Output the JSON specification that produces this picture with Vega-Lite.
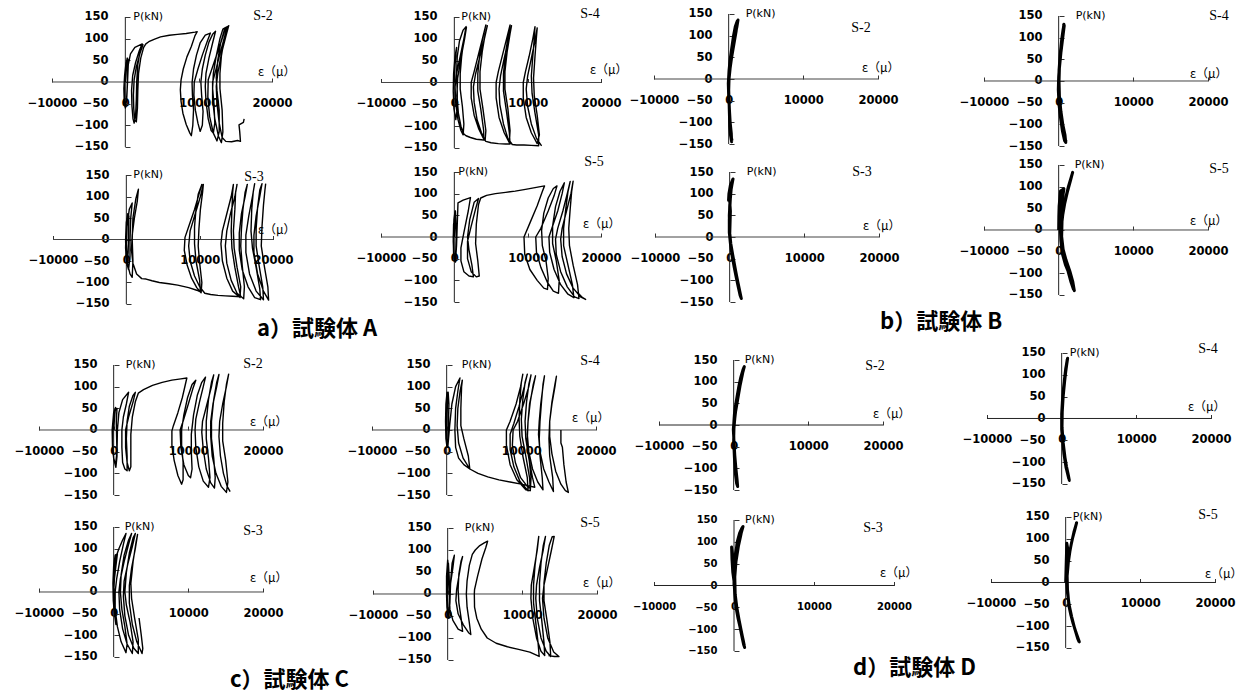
{
"$schema":"https://vega.github.io/schema/vega-lite/v6.json",
"padding":0,"background":"white","columns":4,"spacing":0,"bounds":"flush","align":"each",
"config":{"view":{"stroke":null},
"axis":{"domain":false,"grid":false,"labelFont":"DejaVu Sans","labelFontSize":11.5,"labelFontWeight":"bold","labelColor":"#000","tickColor":"#333","labelBound":false},
"axisX":{"tickSize":-4,"labelPadding":25,"labelBaseline":"middle"},
"axisY":{"tickSize":-5,"labelPadding":22}},
"concat":[
{"width":320,"height":160,"data":{"values":[{}]},"layer":[
{"mark":{"type":"rule","color":"#444"},"encoding":{"x":{"datum":-10000},"x2":{"datum":20000},"y":{"datum":0}}},
{"mark":{"type":"rule","color":"#222"},"encoding":{"x":{"datum":0},"y":{"datum":-150},"y2":{"datum":150}}},
{"data":{"name":"aS2"},"mark":{"type":"line","color":"#000","strokeWidth":1.4,"strokeJoin":"round"},"encoding":{"x":{"field":"e","type":"quantitative","scale":{"domain":[-17091,26545],"nice":false,"zero":false},"axis":{"offset":-78,"values":[-10000,0,10000,20000],"tickCount":20,"format":"d","title":null,"labelOverlap":false,"labelFlush":false}},"y":{"field":"f","type":"quantitative","scale":{"domain":[-180,189.2],"nice":false,"zero":false},"axis":{"offset":-125,"values":[-150,-100,-50,0,50,100,150],"tickCount":20,"title":null,"labelOverlap":false,"labelFlush":false}},"order":{"value":null}}},
{"mark":{"type":"text","text":"P(kN)","font":"DejaVu Sans","fontSize":11,"align":"left","baseline":"middle","dx":8},"encoding":{"x":{"datum":0},"y":{"datum":150}}},
{"mark":{"type":"text","text":"S-2","font":"Liberation Serif","fontSize":14,"align":"center","baseline":"middle","dx":-9,"dy":-1},"encoding":{"x":{"datum":20000},"y":{"datum":150}}},
{"mark":{"type":"text","text":"ε（μ）","font":"Noto Sans CJK JP","fontSize":12,"align":"left","baseline":"middle","dx":-14,"dy":-10},"encoding":{"x":{"datum":20000},"y":{"datum":0}}}]},
{"width":308,"height":160,"data":{"values":[{}]},"layer":[
{"mark":{"type":"rule","color":"#444"},"encoding":{"x":{"datum":-10000},"x2":{"datum":20000},"y":{"datum":0}}},
{"mark":{"type":"rule","color":"#222"},"encoding":{"x":{"datum":0},"y":{"datum":-150},"y2":{"datum":150}}},
{"data":{"name":"aS4"},"mark":{"type":"line","color":"#000","strokeWidth":1.4,"strokeJoin":"round"},"encoding":{"x":{"field":"e","type":"quantitative","scale":{"domain":[-18318,23682],"nice":false,"zero":false},"axis":{"offset":-77.5,"values":[-10000,0,10000,20000],"tickCount":20,"format":"d","title":null,"labelOverlap":false,"labelFlush":false}},"y":{"field":"f","type":"quantitative","scale":{"domain":[-177.5,188.9],"nice":false,"zero":false},"axis":{"offset":-134,"values":[-150,-100,-50,0,50,100,150],"tickCount":20,"title":null,"labelOverlap":false,"labelFlush":false}},"order":{"value":null}}},
{"mark":{"type":"text","text":"P(kN)","font":"DejaVu Sans","fontSize":11,"align":"left","baseline":"middle","dx":7},"encoding":{"x":{"datum":0},"y":{"datum":150}}},
{"mark":{"type":"text","text":"S-4","font":"Liberation Serif","fontSize":14,"align":"center","baseline":"middle","dx":-11,"dy":-3},"encoding":{"x":{"datum":20000},"y":{"datum":150}}},
{"mark":{"type":"text","text":"ε（μ）","font":"Noto Sans CJK JP","fontSize":12,"align":"left","baseline":"middle","dx":-11,"dy":-12},"encoding":{"x":{"datum":20000},"y":{"datum":0}}}]},
{"width":307,"height":160,"data":{"values":[{}]},"layer":[
{"mark":{"type":"rule","color":"#444"},"encoding":{"x":{"datum":-10000},"x2":{"datum":20000},"y":{"datum":0}}},
{"mark":{"type":"rule","color":"#222"},"encoding":{"x":{"datum":0},"y":{"datum":-150},"y2":{"datum":150}}},
{"data":{"name":"bS2"},"mark":{"type":"line","color":"#000","strokeWidth":3,"strokeJoin":"round"},"encoding":{"x":{"field":"e","type":"quantitative","scale":{"domain":[-13482,27634],"nice":false,"zero":false},"axis":{"offset":-81,"values":[-10000,0,10000,20000],"tickCount":20,"format":"d","title":null,"labelOverlap":false,"labelFlush":false}},"y":{"field":"f","type":"quantitative","scale":{"domain":[-186.9,182.3],"nice":false,"zero":false},"axis":{"offset":-101,"values":[-150,-100,-50,0,50,100,150],"tickCount":20,"title":null,"labelOverlap":false,"labelFlush":false}},"order":{"value":null}}},
{"mark":{"type":"text","text":"P(kN)","font":"DejaVu Sans","fontSize":11,"align":"left","baseline":"middle","dx":17},"encoding":{"x":{"datum":0},"y":{"datum":150}}},
{"mark":{"type":"text","text":"S-2","font":"Liberation Serif","fontSize":14,"align":"center","baseline":"middle","dx":-17,"dy":14},"encoding":{"x":{"datum":20000},"y":{"datum":150}}},
{"mark":{"type":"text","text":"ε（μ）","font":"Noto Sans CJK JP","fontSize":12,"align":"left","baseline":"middle","dx":-16,"dy":-11},"encoding":{"x":{"datum":20000},"y":{"datum":0}}}]},
{"width":314,"height":160,"data":{"values":[{}]},"layer":[
{"mark":{"type":"rule","color":"#444"},"encoding":{"x":{"datum":-10000},"x2":{"datum":20000},"y":{"datum":0}}},
{"mark":{"type":"rule","color":"#222"},"encoding":{"x":{"datum":0},"y":{"datum":-150},"y2":{"datum":150}}},
{"data":{"name":"bS4"},"mark":{"type":"line","color":"#000","strokeWidth":3,"strokeJoin":"round"},"encoding":{"x":{"field":"e","type":"quantitative","scale":{"domain":[-16563,25491],"nice":false,"zero":false},"axis":{"offset":-79,"values":[-10000,0,10000,20000],"tickCount":20,"format":"d","title":null,"labelOverlap":false,"labelFlush":false}},"y":{"field":"f","type":"quantitative","scale":{"domain":[-182.3,186.9],"nice":false,"zero":false},"axis":{"offset":-124,"values":[-150,-100,-50,0,50,100,150],"tickCount":20,"title":null,"labelOverlap":false,"labelFlush":false}},"order":{"value":null}}},
{"mark":{"type":"text","text":"P(kN)","font":"DejaVu Sans","fontSize":11,"align":"left","baseline":"middle","dx":17},"encoding":{"x":{"datum":0},"y":{"datum":150}}},
{"mark":{"type":"text","text":"S-4","font":"Liberation Serif","fontSize":14,"align":"center","baseline":"middle","dx":11,"dy":0},"encoding":{"x":{"datum":20000},"y":{"datum":150}}},
{"mark":{"type":"text","text":"ε（μ）","font":"Noto Sans CJK JP","fontSize":12,"align":"left","baseline":"middle","dx":-18,"dy":-7},"encoding":{"x":{"datum":20000},"y":{"datum":0}}}]},
{"width":320,"height":175,"data":{"values":[{}]},"title":{"text":"a）試験体 A","orient":"bottom","anchor":"start","frame":"group","dx":257,"offset":-6,"baseline":"middle","font":"Noto Sans CJK JP","fontSize":22,"fontWeight":"bold","color":"#000"},"layer":[
{"mark":{"type":"rule","color":"#444"},"encoding":{"x":{"datum":-10000},"x2":{"datum":20000},"y":{"datum":0}}},
{"mark":{"type":"rule","color":"#222"},"encoding":{"x":{"datum":0},"y":{"datum":-150},"y2":{"datum":150}}},
{"data":{"name":"aS3"},"mark":{"type":"line","color":"#000","strokeWidth":1.4,"strokeJoin":"round"},"encoding":{"x":{"field":"e","type":"quantitative","scale":{"domain":[-17227,26409],"nice":false,"zero":false},"axis":{"offset":-95.5,"values":[-10000,0,10000,20000],"tickCount":20,"format":"d","title":null,"labelOverlap":false,"labelFlush":false}},"y":{"field":"f","type":"quantitative","scale":{"domain":[-222.1,184.9],"nice":false,"zero":false},"axis":{"offset":-126,"values":[-150,-100,-50,0,50,100,150],"tickCount":20,"title":null,"labelOverlap":false,"labelFlush":false}},"order":{"value":null}}},
{"mark":{"type":"text","text":"P(kN)","font":"DejaVu Sans","fontSize":11,"align":"left","baseline":"middle","dx":7},"encoding":{"x":{"datum":0},"y":{"datum":150}}},
{"mark":{"type":"text","text":"S-3","font":"Liberation Serif","fontSize":14,"align":"center","baseline":"middle","dx":-19,"dy":2},"encoding":{"x":{"datum":20000},"y":{"datum":150}}},
{"mark":{"type":"text","text":"ε（μ）","font":"Noto Sans CJK JP","fontSize":12,"align":"left","baseline":"middle","dx":-15,"dy":-10},"encoding":{"x":{"datum":20000},"y":{"datum":0}}}]},
{"width":308,"height":175,"data":{"values":[{}]},"layer":[
{"mark":{"type":"rule","color":"#444"},"encoding":{"x":{"datum":-10000},"x2":{"datum":20000},"y":{"datum":0}}},
{"mark":{"type":"rule","color":"#222"},"encoding":{"x":{"datum":0},"y":{"datum":-150},"y2":{"datum":150}}},
{"data":{"name":"aS5"},"mark":{"type":"line","color":"#000","strokeWidth":1.4,"strokeJoin":"round"},"encoding":{"x":{"field":"e","type":"quantitative","scale":{"domain":[-18318,23682],"nice":false,"zero":false},"axis":{"offset":-98,"values":[-10000,0,10000,20000],"tickCount":20,"format":"d","title":null,"labelOverlap":false,"labelFlush":false}},"y":{"field":"f","type":"quantitative","scale":{"domain":[-226.1,177.7],"nice":false,"zero":false},"axis":{"offset":-134,"values":[-150,-100,-50,0,50,100,150],"tickCount":20,"title":null,"labelOverlap":false,"labelFlush":false}},"order":{"value":null}}},
{"mark":{"type":"text","text":"P(kN)","font":"DejaVu Sans","fontSize":11,"align":"left","baseline":"middle","dx":4},"encoding":{"x":{"datum":0},"y":{"datum":150}}},
{"mark":{"type":"text","text":"S-5","font":"Liberation Serif","fontSize":14,"align":"center","baseline":"middle","dx":-7,"dy":-10},"encoding":{"x":{"datum":20000},"y":{"datum":150}}},
{"mark":{"type":"text","text":"ε（μ）","font":"Noto Sans CJK JP","fontSize":12,"align":"left","baseline":"middle","dx":-18,"dy":-13},"encoding":{"x":{"datum":20000},"y":{"datum":0}}}]},
{"width":307,"height":175,"data":{"values":[{}]},"title":{"text":"b）試験体 B","orient":"bottom","anchor":"start","frame":"group","dx":252,"offset":-13,"baseline":"middle","font":"Noto Sans CJK JP","fontSize":22,"fontWeight":"bold","color":"#000"},"layer":[
{"mark":{"type":"rule","color":"#444"},"encoding":{"x":{"datum":-10000},"x2":{"datum":20000},"y":{"datum":0}}},
{"mark":{"type":"rule","color":"#222"},"encoding":{"x":{"datum":0},"y":{"datum":-150},"y2":{"datum":150}}},
{"data":{"name":"bS3"},"mark":{"type":"line","color":"#000","strokeWidth":3,"strokeJoin":"round"},"encoding":{"x":{"field":"e","type":"quantitative","scale":{"domain":[-13616,27500],"nice":false,"zero":false},"axis":{"offset":-98,"values":[-10000,0,10000,20000],"tickCount":20,"format":"d","title":null,"labelOverlap":false,"labelFlush":false}},"y":{"field":"f","type":"quantitative","scale":{"domain":[-226.1,177.7],"nice":false,"zero":false},"axis":{"offset":-102,"values":[-150,-100,-50,0,50,100,150],"tickCount":20,"title":null,"labelOverlap":false,"labelFlush":false}},"order":{"value":null}}},
{"mark":{"type":"text","text":"P(kN)","font":"DejaVu Sans","fontSize":11,"align":"left","baseline":"middle","dx":17},"encoding":{"x":{"datum":0},"y":{"datum":150}}},
{"mark":{"type":"text","text":"S-3","font":"Liberation Serif","fontSize":14,"align":"center","baseline":"middle","dx":-17,"dy":0},"encoding":{"x":{"datum":20000},"y":{"datum":150}}},
{"mark":{"type":"text","text":"ε（μ）","font":"Noto Sans CJK JP","fontSize":12,"align":"left","baseline":"middle","dx":-16,"dy":-11},"encoding":{"x":{"datum":20000},"y":{"datum":0}}}]},
{"width":314,"height":175,"data":{"values":[{}]},"layer":[
{"mark":{"type":"rule","color":"#444"},"encoding":{"x":{"datum":-10000},"x2":{"datum":20000},"y":{"datum":0}}},
{"mark":{"type":"rule","color":"#222"},"encoding":{"x":{"datum":0},"y":{"datum":-150},"y2":{"datum":150}}},
{"data":{"name":"bS5"},"mark":{"type":"line","color":"#000","strokeWidth":3,"strokeJoin":"round"},"encoding":{"x":{"field":"e","type":"quantitative","scale":{"domain":[-16563,25491],"nice":false,"zero":false},"axis":{"offset":-105,"values":[-10000,0,10000,20000],"tickCount":20,"format":"d","title":null,"labelOverlap":false,"labelFlush":false}},"y":{"field":"f","type":"quantitative","scale":{"domain":[-242.3,161.5],"nice":false,"zero":false},"axis":{"offset":-124,"values":[-150,-100,-50,0,50,100,150],"tickCount":20,"title":null,"labelOverlap":false,"labelFlush":false}},"order":{"value":null}}},
{"mark":{"type":"text","text":"P(kN)","font":"DejaVu Sans","fontSize":11,"align":"left","baseline":"middle","dx":16},"encoding":{"x":{"datum":0},"y":{"datum":150}}},
{"mark":{"type":"text","text":"S-5","font":"Liberation Serif","fontSize":14,"align":"center","baseline":"middle","dx":11,"dy":4},"encoding":{"x":{"datum":20000},"y":{"datum":150}}},
{"mark":{"type":"text","text":"ε（μ）","font":"Noto Sans CJK JP","fontSize":12,"align":"left","baseline":"middle","dx":-18,"dy":-9},"encoding":{"x":{"datum":20000},"y":{"datum":0}}}]},
{"width":320,"height":175,"data":{"values":[{}]},"layer":[
{"mark":{"type":"rule","color":"#444"},"encoding":{"x":{"datum":-10000},"x2":{"datum":20000},"y":{"datum":0}}},
{"mark":{"type":"rule","color":"#222"},"encoding":{"x":{"datum":0},"y":{"datum":-150},"y2":{"datum":150}}},
{"data":{"name":"cS2"},"mark":{"type":"line","color":"#000","strokeWidth":1.4,"strokeJoin":"round"},"encoding":{"x":{"field":"e","type":"quantitative","scale":{"domain":[-15223,27634],"nice":false,"zero":false},"axis":{"offset":-80,"values":[-10000,0,10000,20000],"tickCount":20,"format":"d","title":null,"labelOverlap":false,"labelFlush":false}},"y":{"field":"f","type":"quantitative","scale":{"domain":[-184.6,219.2],"nice":false,"zero":false},"axis":{"offset":-114,"values":[-150,-100,-50,0,50,100,150],"tickCount":20,"title":null,"labelOverlap":false,"labelFlush":false}},"order":{"value":null}}},
{"mark":{"type":"text","text":"P(kN)","font":"DejaVu Sans","fontSize":11,"align":"left","baseline":"middle","dx":12},"encoding":{"x":{"datum":0},"y":{"datum":150}}},
{"mark":{"type":"text","text":"S-2","font":"Liberation Serif","fontSize":14,"align":"center","baseline":"middle","dx":-10,"dy":-1},"encoding":{"x":{"datum":20000},"y":{"datum":150}}},
{"mark":{"type":"text","text":"ε（μ）","font":"Noto Sans CJK JP","fontSize":12,"align":"left","baseline":"middle","dx":-13,"dy":-8},"encoding":{"x":{"datum":20000},"y":{"datum":0}}}]},
{"width":308,"height":175,"data":{"values":[{}]},"layer":[
{"mark":{"type":"rule","color":"#444"},"encoding":{"x":{"datum":-10000},"x2":{"datum":20000},"y":{"datum":0}}},
{"mark":{"type":"rule","color":"#222"},"encoding":{"x":{"datum":0},"y":{"datum":-150},"y2":{"datum":150}}},
{"data":{"name":"cS4"},"mark":{"type":"line","color":"#000","strokeWidth":1.4,"strokeJoin":"round"},"encoding":{"x":{"field":"e","type":"quantitative","scale":{"domain":[-16964,24286],"nice":false,"zero":false},"axis":{"offset":-80,"values":[-10000,0,10000,20000],"tickCount":20,"format":"d","title":null,"labelOverlap":false,"labelFlush":false}},"y":{"field":"f","type":"quantitative","scale":{"domain":[-184.6,219.2],"nice":false,"zero":false},"axis":{"offset":-127,"values":[-150,-100,-50,0,50,100,150],"tickCount":20,"title":null,"labelOverlap":false,"labelFlush":false}},"order":{"value":null}}},
{"mark":{"type":"text","text":"P(kN)","font":"DejaVu Sans","fontSize":11,"align":"left","baseline":"middle","dx":15},"encoding":{"x":{"datum":0},"y":{"datum":150}}},
{"mark":{"type":"text","text":"S-4","font":"Liberation Serif","fontSize":14,"align":"center","baseline":"middle","dx":-6,"dy":-4},"encoding":{"x":{"datum":20000},"y":{"datum":150}}},
{"mark":{"type":"text","text":"ε（μ）","font":"Noto Sans CJK JP","fontSize":12,"align":"left","baseline":"middle","dx":-24,"dy":-12},"encoding":{"x":{"datum":20000},"y":{"datum":0}}}]},
{"width":307,"height":175,"data":{"values":[{}]},"layer":[
{"mark":{"type":"rule","color":"#222"},"encoding":{"x":{"datum":-10000},"x2":{"datum":20000},"y":{"datum":0}}},
{"mark":{"type":"rule","color":"#222"},"encoding":{"x":{"datum":0},"y":{"datum":-150},"y2":{"datum":150}}},
{"data":{"name":"dS2"},"mark":{"type":"line","color":"#000","strokeWidth":3,"strokeJoin":"round"},"encoding":{"x":{"field":"e","type":"quantitative","scale":{"domain":[-14152,26964],"nice":false,"zero":false},"axis":{"offset":-85,"values":[-10000,0,10000,20000],"tickCount":20,"format":"d","title":null,"labelOverlap":false,"labelFlush":false}},"y":{"field":"f","type":"quantitative","scale":{"domain":[-196.1,207.7],"nice":false,"zero":false},"axis":{"offset":-106,"values":[-150,-100,-50,0,50,100,150],"tickCount":20,"title":null,"labelOverlap":false,"labelFlush":false}},"order":{"value":null}}},
{"mark":{"type":"text","text":"P(kN)","font":"DejaVu Sans","fontSize":11,"align":"left","baseline":"middle","dx":11},"encoding":{"x":{"datum":0},"y":{"datum":150}}},
{"mark":{"type":"text","text":"S-2","font":"Liberation Serif","fontSize":14,"align":"center","baseline":"middle","dx":-8,"dy":6},"encoding":{"x":{"datum":20000},"y":{"datum":150}}},
{"mark":{"type":"text","text":"ε（μ）","font":"Noto Sans CJK JP","fontSize":12,"align":"left","baseline":"middle","dx":-10,"dy":-11},"encoding":{"x":{"datum":20000},"y":{"datum":0}}}]},
{"width":314,"height":175,"data":{"values":[{}]},"layer":[
{"mark":{"type":"rule","color":"#222"},"encoding":{"x":{"datum":-10000},"x2":{"datum":20000},"y":{"datum":0}}},
{"mark":{"type":"rule","color":"#222"},"encoding":{"x":{"datum":0},"y":{"datum":-150},"y2":{"datum":150}}},
{"data":{"name":"dS4"},"mark":{"type":"line","color":"#000","strokeWidth":3,"strokeJoin":"round"},"encoding":{"x":{"field":"e","type":"quantitative","scale":{"domain":[-16964,25090],"nice":false,"zero":false},"axis":{"offset":-91.5,"values":[-10000,0,10000,20000],"tickCount":20,"format":"d","title":null,"labelOverlap":false,"labelFlush":false}},"y":{"field":"f","type":"quantitative","scale":{"domain":[-209.6,191.2],"nice":false,"zero":false},"axis":{"offset":-127,"values":[-150,-100,-50,0,50,100,150],"tickCount":20,"title":null,"labelOverlap":false,"labelFlush":false}},"order":{"value":null}}},
{"mark":{"type":"text","text":"P(kN)","font":"DejaVu Sans","fontSize":11,"align":"left","baseline":"middle","dx":8},"encoding":{"x":{"datum":0},"y":{"datum":150}}},
{"mark":{"type":"text","text":"S-4","font":"Liberation Serif","fontSize":14,"align":"center","baseline":"middle","dx":-3,"dy":-4},"encoding":{"x":{"datum":20000},"y":{"datum":150}}},
{"mark":{"type":"text","text":"ε（μ）","font":"Noto Sans CJK JP","fontSize":12,"align":"left","baseline":"middle","dx":-23,"dy":-11},"encoding":{"x":{"datum":20000},"y":{"datum":0}}}]},
{"width":320,"height":185,"data":{"values":[{}]},"title":{"text":"c）試験体 C","orient":"bottom","anchor":"start","frame":"group","dx":230,"offset":-15,"baseline":"middle","font":"Noto Sans CJK JP","fontSize":22,"fontWeight":"bold","color":"#000"},"layer":[
{"mark":{"type":"rule","color":"#444"},"encoding":{"x":{"datum":-10000},"x2":{"datum":20000},"y":{"datum":0}}},
{"mark":{"type":"rule","color":"#222"},"encoding":{"x":{"datum":0},"y":{"datum":-150},"y2":{"datum":150}}},
{"data":{"name":"cS3"},"mark":{"type":"line","color":"#000","strokeWidth":1.4,"strokeJoin":"round"},"encoding":{"x":{"field":"e","type":"quantitative","scale":{"domain":[-15223,27634],"nice":false,"zero":false},"axis":{"offset":-103,"values":[-10000,0,10000,20000],"tickCount":20,"format":"d","title":null,"labelOverlap":false,"labelFlush":false}},"y":{"field":"f","type":"quantitative","scale":{"domain":[-237.7,189.2],"nice":false,"zero":false},"axis":{"offset":-114,"values":[-150,-100,-50,0,50,100,150],"tickCount":20,"title":null,"labelOverlap":false,"labelFlush":false}},"order":{"value":null}}},
{"mark":{"type":"text","text":"P(kN)","font":"DejaVu Sans","fontSize":11,"align":"left","baseline":"middle","dx":11},"encoding":{"x":{"datum":0},"y":{"datum":150}}},
{"mark":{"type":"text","text":"S-3","font":"Liberation Serif","fontSize":14,"align":"center","baseline":"middle","dx":-10,"dy":4},"encoding":{"x":{"datum":20000},"y":{"datum":150}}},
{"mark":{"type":"text","text":"ε（μ）","font":"Noto Sans CJK JP","fontSize":12,"align":"left","baseline":"middle","dx":-13,"dy":-14},"encoding":{"x":{"datum":20000},"y":{"datum":0}}}]},
{"width":308,"height":185,"data":{"values":[{}]},"layer":[
{"mark":{"type":"rule","color":"#444"},"encoding":{"x":{"datum":-10000},"x2":{"datum":20000},"y":{"datum":0}}},
{"mark":{"type":"rule","color":"#222"},"encoding":{"x":{"datum":0},"y":{"datum":-150},"y2":{"datum":150}}},
{"data":{"name":"cS5"},"mark":{"type":"line","color":"#000","strokeWidth":1.4,"strokeJoin":"round"},"encoding":{"x":{"field":"e","type":"quantitative","scale":{"domain":[-17098,24152],"nice":false,"zero":false},"axis":{"offset":-101,"values":[-10000,0,10000,20000],"tickCount":20,"format":"d","title":null,"labelOverlap":false,"labelFlush":false}},"y":{"field":"f","type":"quantitative","scale":{"domain":[-229.6,190.9],"nice":false,"zero":false},"axis":{"offset":-128,"values":[-150,-100,-50,0,50,100,150],"tickCount":20,"title":null,"labelOverlap":false,"labelFlush":false}},"order":{"value":null}}},
{"mark":{"type":"text","text":"P(kN)","font":"DejaVu Sans","fontSize":11,"align":"left","baseline":"middle","dx":17},"encoding":{"x":{"datum":0},"y":{"datum":150}}},
{"mark":{"type":"text","text":"S-5","font":"Liberation Serif","fontSize":14,"align":"center","baseline":"middle","dx":-7,"dy":-5},"encoding":{"x":{"datum":20000},"y":{"datum":150}}},
{"mark":{"type":"text","text":"ε（μ）","font":"Noto Sans CJK JP","fontSize":12,"align":"left","baseline":"middle","dx":-14,"dy":-11},"encoding":{"x":{"datum":20000},"y":{"datum":0}}}]},
{"width":307,"height":185,"data":{"values":[{}]},"title":{"text":"d）試験体 D","orient":"bottom","anchor":"start","frame":"group","dx":225,"offset":-27,"baseline":"middle","font":"Noto Sans CJK JP","fontSize":22,"fontWeight":"bold","color":"#000"},"layer":[
{"mark":{"type":"rule","color":"#222"},"encoding":{"x":{"datum":-10000},"x2":{"datum":20000},"y":{"datum":0}}},
{"mark":{"type":"rule","color":"#222"},"encoding":{"x":{"datum":0},"y":{"datum":-150},"y2":{"datum":150}}},
{"data":{"name":"dS3"},"mark":{"type":"line","color":"#000","strokeWidth":3,"strokeJoin":"round"},"encoding":{"x":{"field":"e","type":"quantitative","scale":{"domain":[-13250,25125],"nice":false,"zero":false},"axis":{"offset":-109.5,"values":[-10000,0,10000,20000],"tickCount":20,"format":"d","title":null,"labelFontSize":10,"labelOverlap":false,"labelFlush":false}},"y":{"field":"f","type":"quantitative","scale":{"domain":[-250.8,172.9],"nice":false,"zero":false},"axis":{"offset":-106,"values":[-150,-100,-50,0,50,100,150],"tickCount":20,"title":null,"labelFontSize":10,"labelOverlap":false,"labelFlush":false}},"order":{"value":null}}},
{"mark":{"type":"text","text":"P(kN)","font":"DejaVu Sans","fontSize":11,"align":"left","baseline":"middle","dx":11},"encoding":{"x":{"datum":0},"y":{"datum":150}}},
{"mark":{"type":"text","text":"S-3","font":"Liberation Serif","fontSize":14,"align":"center","baseline":"middle","dx":-21,"dy":8},"encoding":{"x":{"datum":20000},"y":{"datum":150}}},
{"mark":{"type":"text","text":"ε（μ）","font":"Noto Sans CJK JP","fontSize":12,"align":"left","baseline":"middle","dx":-14,"dy":-12},"encoding":{"x":{"datum":20000},"y":{"datum":0}}}]},
{"width":314,"height":185,"data":{"values":[{}]},"layer":[
{"mark":{"type":"rule","color":"#222"},"encoding":{"x":{"datum":-10000},"x2":{"datum":20000},"y":{"datum":0}}},
{"mark":{"type":"rule","color":"#222"},"encoding":{"x":{"datum":0},"y":{"datum":-150},"y2":{"datum":150}}},
{"data":{"name":"dS5"},"mark":{"type":"line","color":"#000","strokeWidth":3,"strokeJoin":"round"},"encoding":{"x":{"field":"e","type":"quantitative","scale":{"domain":[-17500,24554],"nice":false,"zero":false},"axis":{"offset":-112.5,"values":[-10000,0,10000,20000],"tickCount":20,"format":"d","title":null,"labelOverlap":false,"labelFlush":false}},"y":{"field":"f","type":"quantitative","scale":{"domain":[-257.7,166],"nice":false,"zero":false},"axis":{"offset":-131,"values":[-150,-100,-50,0,50,100,150],"tickCount":20,"title":null,"labelOverlap":false,"labelFlush":false}},"order":{"value":null}}},
{"mark":{"type":"text","text":"P(kN)","font":"DejaVu Sans","fontSize":11,"align":"left","baseline":"middle","dx":7},"encoding":{"x":{"datum":0},"y":{"datum":150}}},
{"mark":{"type":"text","text":"S-5","font":"Liberation Serif","fontSize":14,"align":"center","baseline":"middle","dx":-7,"dy":-2},"encoding":{"x":{"datum":20000},"y":{"datum":150}}},
{"mark":{"type":"text","text":"ε（μ）","font":"Noto Sans CJK JP","fontSize":12,"align":"left","baseline":"middle","dx":-10,"dy":-8},"encoding":{"x":{"datum":20000},"y":{"datum":0}}}]}
],
"datasets":{
"aS2":[{"e":0,"f":0},{"e":150,"f":30},{"e":300,"f":55},{"e":100,"f":45},{"e":-100,"f":15},{"e":-200,"f":-15},{"e":-150,"f":-45},{"e":0,"f":-60},{"e":150,"f":-45},{"e":250,"f":-15},{"e":300,"f":15},{"e":380,"f":50},{"e":250,"f":55},{"e":0,"f":30},{"e":-150,"f":0},{"e":-100,"f":-40},{"e":50,"f":-58},{"e":200,"f":-35},{"e":300,"f":0},{"e":400,"f":40},{"e":700,"f":65},{"e":1300,"f":80},{"e":2300,"f":88},{"e":1900,"f":72},{"e":1400,"f":45},{"e":1000,"f":15},{"e":850,"f":-20},{"e":900,"f":-55},{"e":1050,"f":-85},{"e":1200,"f":-95},{"e":1400,"f":-78},{"e":1500,"f":-40},{"e":1550,"f":0},{"e":1700,"f":40},{"e":2000,"f":70},{"e":2400,"f":86},{"e":2000,"f":66},{"e":1500,"f":35},{"e":1200,"f":5},{"e":1100,"f":-30},{"e":1150,"f":-62},{"e":1300,"f":-88},{"e":1500,"f":-92},{"e":1650,"f":-60},{"e":1700,"f":-20},{"e":1800,"f":20},{"e":2100,"f":55},{"e":2500,"f":80},{"e":2800,"f":88},{"e":3200,"f":93},{"e":4000,"f":99},{"e":4800,"f":104},{"e":6000,"f":108},{"e":7100,"f":110},{"e":8300,"f":112},{"e":9500,"f":115},{"e":9800,"f":116},{"e":9500,"f":107},{"e":9000,"f":82},{"e":8400,"f":58},{"e":7900,"f":30},{"e":7600,"f":5},{"e":7500,"f":-18},{"e":7600,"f":-45},{"e":7850,"f":-72},{"e":8300,"f":-98},{"e":8800,"f":-118},{"e":9000,"f":-124},{"e":9200,"f":-100},{"e":9300,"f":-64},{"e":9150,"f":-30},{"e":9100,"f":-2},{"e":9300,"f":30},{"e":9700,"f":62},{"e":10200,"f":90},{"e":10900,"f":108},{"e":11600,"f":113},{"e":11200,"f":95},{"e":10500,"f":62},{"e":9900,"f":30},{"e":9400,"f":0},{"e":9350,"f":-30},{"e":9550,"f":-65},{"e":9900,"f":-95},{"e":10200,"f":-114},{"e":10500,"f":-100},{"e":10600,"f":-68},{"e":10400,"f":-30},{"e":10300,"f":0},{"e":10500,"f":30},{"e":10900,"f":62},{"e":11400,"f":92},{"e":11900,"f":110},{"e":12300,"f":117},{"e":11900,"f":90},{"e":11400,"f":55},{"e":11000,"f":20},{"e":10900,"f":-10},{"e":11000,"f":-45},{"e":11300,"f":-85},{"e":11700,"f":-112},{"e":12000,"f":-118},{"e":12200,"f":-95},{"e":12100,"f":-55},{"e":11900,"f":-15},{"e":12000,"f":20},{"e":12400,"f":60},{"e":12900,"f":100},{"e":13300,"f":122},{"e":13700,"f":126},{"e":13300,"f":105},{"e":12600,"f":70},{"e":11900,"f":35},{"e":11300,"f":5},{"e":11250,"f":-35},{"e":11500,"f":-80},{"e":12000,"f":-118},{"e":12500,"f":-136},{"e":12800,"f":-115},{"e":12800,"f":-65},{"e":12500,"f":-20},{"e":12400,"f":10},{"e":12600,"f":50},{"e":13000,"f":90},{"e":13500,"f":120},{"e":13900,"f":128},{"e":13500,"f":102},{"e":12900,"f":65},{"e":12300,"f":25},{"e":11900,"f":0},{"e":11900,"f":-40},{"e":12200,"f":-85},{"e":12700,"f":-125},{"e":13100,"f":-140},{"e":13300,"f":-115},{"e":13200,"f":-65},{"e":12900,"f":-15},{"e":12900,"f":20},{"e":13100,"f":60},{"e":13500,"f":100},{"e":13900,"f":125},{"e":14100,"f":130},{"e":13700,"f":105},{"e":13100,"f":65},{"e":12600,"f":20},{"e":12400,"f":-10},{"e":12500,"f":-50},{"e":12800,"f":-95},{"e":13200,"f":-128},{"e":13700,"f":-137},{"e":14500,"f":-138},{"e":15300,"f":-135},{"e":15700,"f":-137},{"e":15600,"f":-115},{"e":15500,"f":-99},{"e":16100,"f":-93},{"e":16200,"f":-85}],
"aS4":[{"e":0,"f":0},{"e":100,"f":40},{"e":300,"f":80},{"e":100,"f":60},{"e":-100,"f":20},{"e":-150,"f":-20},{"e":-50,"f":-60},{"e":200,"f":-85},{"e":400,"f":-60},{"e":400,"f":-20},{"e":300,"f":20},{"e":400,"f":60},{"e":700,"f":95},{"e":1200,"f":120},{"e":1600,"f":128},{"e":1300,"f":100},{"e":800,"f":60},{"e":300,"f":20},{"e":100,"f":-10},{"e":200,"f":-50},{"e":500,"f":-85},{"e":900,"f":-110},{"e":1200,"f":-120},{"e":1300,"f":-95},{"e":1100,"f":-55},{"e":800,"f":-15},{"e":800,"f":20},{"e":1000,"f":60},{"e":1300,"f":100},{"e":1650,"f":126},{"e":1400,"f":100},{"e":900,"f":55},{"e":450,"f":10},{"e":350,"f":-30},{"e":550,"f":-70},{"e":900,"f":-100},{"e":1300,"f":-118},{"e":1600,"f":-122},{"e":2200,"f":-126},{"e":3000,"f":-130},{"e":3700,"f":-131},{"e":4000,"f":-132},{"e":4000,"f":-110},{"e":3600,"f":-60},{"e":3200,"f":-20},{"e":3200,"f":20},{"e":3500,"f":70},{"e":4000,"f":110},{"e":4300,"f":132},{"e":3900,"f":105},{"e":3300,"f":65},{"e":2700,"f":25},{"e":2300,"f":0},{"e":2300,"f":-35},{"e":2700,"f":-75},{"e":3300,"f":-105},{"e":3900,"f":-126},{"e":4200,"f":-133},{"e":4300,"f":-110},{"e":3900,"f":-60},{"e":3500,"f":-15},{"e":3500,"f":25},{"e":3800,"f":70},{"e":4200,"f":110},{"e":4500,"f":130},{"e":4100,"f":100},{"e":3500,"f":60},{"e":2900,"f":20},{"e":2600,"f":-10},{"e":2700,"f":-45},{"e":3100,"f":-85},{"e":3700,"f":-115},{"e":4300,"f":-135},{"e":5000,"f":-138},{"e":6000,"f":-140},{"e":7000,"f":-141},{"e":7600,"f":-141},{"e":7500,"f":-115},{"e":7100,"f":-65},{"e":6700,"f":-20},{"e":6700,"f":20},{"e":7000,"f":70},{"e":7400,"f":110},{"e":7600,"f":132},{"e":7200,"f":105},{"e":6600,"f":65},{"e":6000,"f":25},{"e":5700,"f":0},{"e":5700,"f":-35},{"e":6100,"f":-80},{"e":6800,"f":-115},{"e":7500,"f":-138},{"e":7600,"f":-110},{"e":7300,"f":-60},{"e":6900,"f":-15},{"e":6900,"f":25},{"e":7200,"f":70},{"e":7600,"f":112},{"e":7800,"f":130},{"e":7400,"f":100},{"e":6800,"f":55},{"e":6300,"f":15},{"e":6100,"f":-15},{"e":6200,"f":-50},{"e":6700,"f":-95},{"e":7300,"f":-128},{"e":7900,"f":-142},{"e":8500,"f":-143},{"e":9500,"f":-143},{"e":10500,"f":-144},{"e":11500,"f":-145},{"e":11500,"f":-120},{"e":11000,"f":-70},{"e":10600,"f":-25},{"e":10500,"f":15},{"e":10700,"f":60},{"e":10900,"f":100},{"e":11000,"f":128},{"e":10700,"f":100},{"e":10200,"f":60},{"e":9700,"f":25},{"e":9400,"f":0},{"e":9400,"f":-35},{"e":9800,"f":-80},{"e":10500,"f":-115},{"e":11300,"f":-140},{"e":11600,"f":-120},{"e":11300,"f":-75},{"e":10900,"f":-30},{"e":10800,"f":10},{"e":11000,"f":60},{"e":11200,"f":105},{"e":11300,"f":125},{"e":11000,"f":95},{"e":10500,"f":55},{"e":10000,"f":15},{"e":9800,"f":-15},{"e":10000,"f":-55},{"e":10500,"f":-95},{"e":11200,"f":-128},{"e":11900,"f":-145}],
"aS3":[{"e":0,"f":0},{"e":100,"f":30},{"e":200,"f":60},{"e":0,"f":40},{"e":-100,"f":0},{"e":-50,"f":-40},{"e":100,"f":-60},{"e":250,"f":-30},{"e":300,"f":10},{"e":350,"f":55},{"e":200,"f":60},{"e":-50,"f":20},{"e":-100,"f":-20},{"e":50,"f":-55},{"e":300,"f":-70},{"e":500,"f":-40},{"e":500,"f":0},{"e":600,"f":50},{"e":800,"f":85},{"e":400,"f":70},{"e":100,"f":30},{"e":0,"f":-10},{"e":150,"f":-55},{"e":500,"f":-80},{"e":800,"f":-88},{"e":900,"f":-50},{"e":800,"f":0},{"e":900,"f":50},{"e":1300,"f":95},{"e":1650,"f":117},{"e":1500,"f":90},{"e":1100,"f":50},{"e":800,"f":10},{"e":700,"f":-25},{"e":900,"f":-55},{"e":1400,"f":-80},{"e":2100,"f":-91},{"e":2700,"f":-92},{"e":3500,"f":-96},{"e":4500,"f":-100},{"e":5800,"f":-103},{"e":7000,"f":-106},{"e":8500,"f":-112},{"e":9600,"f":-118},{"e":10100,"f":-122},{"e":10000,"f":-95},{"e":9500,"f":-50},{"e":9300,"f":-10},{"e":9300,"f":30},{"e":9500,"f":70},{"e":9800,"f":105},{"e":10300,"f":128},{"e":9900,"f":105},{"e":9300,"f":70},{"e":8600,"f":35},{"e":8000,"f":5},{"e":7900,"f":-25},{"e":8300,"f":-60},{"e":8900,"f":-90},{"e":9600,"f":-112},{"e":10200,"f":-124},{"e":10300,"f":-100},{"e":10000,"f":-55},{"e":9800,"f":-15},{"e":9900,"f":25},{"e":10100,"f":70},{"e":10400,"f":110},{"e":10500,"f":128},{"e":10100,"f":100},{"e":9400,"f":60},{"e":8700,"f":20},{"e":8500,"f":-15},{"e":8700,"f":-50},{"e":9300,"f":-85},{"e":10000,"f":-110},{"e":10700,"f":-125},{"e":11500,"f":-128},{"e":12500,"f":-130},{"e":13500,"f":-131},{"e":14500,"f":-132},{"e":15600,"f":-133},{"e":15300,"f":-110},{"e":14800,"f":-65},{"e":14400,"f":-20},{"e":14300,"f":20},{"e":14400,"f":70},{"e":14500,"f":110},{"e":14600,"f":128},{"e":14300,"f":100},{"e":13700,"f":60},{"e":13100,"f":20},{"e":12900,"f":-10},{"e":13100,"f":-50},{"e":13700,"f":-90},{"e":14500,"f":-120},{"e":15500,"f":-135},{"e":15600,"f":-110},{"e":15100,"f":-65},{"e":14700,"f":-20},{"e":14600,"f":20},{"e":14800,"f":70},{"e":14900,"f":110},{"e":15100,"f":128},{"e":14800,"f":100},{"e":14200,"f":60},{"e":13700,"f":20},{"e":13500,"f":-15},{"e":13700,"f":-55},{"e":14300,"f":-95},{"e":15100,"f":-125},{"e":16000,"f":-138},{"e":16100,"f":-110},{"e":15800,"f":-60},{"e":15600,"f":-15},{"e":15700,"f":25},{"e":15900,"f":70},{"e":16200,"f":110},{"e":16500,"f":128},{"e":16200,"f":100},{"e":15700,"f":60},{"e":15400,"f":15},{"e":15400,"f":-25},{"e":15800,"f":-70},{"e":16600,"f":-110},{"e":17500,"f":-135},{"e":18300,"f":-140},{"e":18200,"f":-115},{"e":17700,"f":-65},{"e":17200,"f":-20},{"e":17000,"f":20},{"e":17100,"f":70},{"e":17300,"f":110},{"e":17500,"f":130},{"e":17200,"f":100},{"e":16700,"f":55},{"e":16300,"f":10},{"e":16300,"f":-30},{"e":16800,"f":-80},{"e":17700,"f":-120},{"e":18700,"f":-140},{"e":18600,"f":-110},{"e":18100,"f":-60},{"e":17700,"f":-15},{"e":17700,"f":25},{"e":17900,"f":75},{"e":18200,"f":115},{"e":18500,"f":130},{"e":18200,"f":100},{"e":17700,"f":55},{"e":17400,"f":10},{"e":17400,"f":-30},{"e":17900,"f":-80},{"e":18700,"f":-120},{"e":19400,"f":-141},{"e":19300,"f":-110},{"e":18800,"f":-60},{"e":18400,"f":-15},{"e":18500,"f":30},{"e":18700,"f":80},{"e":18900,"f":115},{"e":19000,"f":130}],
"aS5":[{"e":0,"f":0},{"e":50,"f":30},{"e":100,"f":60},{"e":-50,"f":40},{"e":-150,"f":0},{"e":-100,"f":-40},{"e":50,"f":-55},{"e":200,"f":-30},{"e":250,"f":0},{"e":200,"f":40},{"e":150,"f":60},{"e":-100,"f":30},{"e":-150,"f":-10},{"e":-50,"f":-50},{"e":150,"f":-58},{"e":300,"f":-20},{"e":400,"f":30},{"e":500,"f":79},{"e":1200,"f":85},{"e":2200,"f":91},{"e":1900,"f":60},{"e":1300,"f":10},{"e":900,"f":-25},{"e":900,"f":-55},{"e":1300,"f":-80},{"e":2000,"f":-90},{"e":2600,"f":-92},{"e":2400,"f":-65},{"e":2000,"f":-30},{"e":1800,"f":0},{"e":2100,"f":40},{"e":2700,"f":80},{"e":3300,"f":89},{"e":2900,"f":65},{"e":2300,"f":25},{"e":1800,"f":-10},{"e":1800,"f":-50},{"e":2300,"f":-80},{"e":3000,"f":-92},{"e":3400,"f":-90},{"e":3200,"f":-55},{"e":2900,"f":-15},{"e":3000,"f":30},{"e":3300,"f":75},{"e":3600,"f":90},{"e":4400,"f":96},{"e":5600,"f":100},{"e":7000,"f":103},{"e":8300,"f":106},{"e":9700,"f":110},{"e":11000,"f":114},{"e":12300,"f":118},{"e":12000,"f":105},{"e":11300,"f":72},{"e":10300,"f":32},{"e":9500,"f":0},{"e":9600,"f":-40},{"e":10300,"f":-75},{"e":11300,"f":-100},{"e":12200,"f":-118},{"e":12700,"f":-121},{"e":12800,"f":-95},{"e":12500,"f":-55},{"e":12000,"f":-20},{"e":11900,"f":15},{"e":12200,"f":55},{"e":12800,"f":90},{"e":13500,"f":112},{"e":14000,"f":118},{"e":13600,"f":95},{"e":12800,"f":60},{"e":11800,"f":20},{"e":11100,"f":0},{"e":11200,"f":-35},{"e":11800,"f":-70},{"e":12700,"f":-105},{"e":13500,"f":-125},{"e":14200,"f":-130},{"e":14300,"f":-100},{"e":13900,"f":-55},{"e":13400,"f":-15},{"e":13400,"f":25},{"e":13800,"f":70},{"e":14400,"f":105},{"e":15000,"f":125},{"e":14700,"f":100},{"e":14100,"f":60},{"e":13300,"f":20},{"e":12900,"f":0},{"e":13000,"f":-35},{"e":13600,"f":-75},{"e":14500,"f":-110},{"e":15500,"f":-132},{"e":16300,"f":-140},{"e":16100,"f":-110},{"e":15500,"f":-65},{"e":14900,"f":-20},{"e":14900,"f":20},{"e":15200,"f":65},{"e":15500,"f":105},{"e":15800,"f":128},{"e":15400,"f":100},{"e":14800,"f":60},{"e":14100,"f":20},{"e":13800,"f":-5},{"e":13900,"f":-40},{"e":14500,"f":-80},{"e":15400,"f":-115},{"e":16400,"f":-138},{"e":17000,"f":-142},{"e":16800,"f":-110},{"e":16200,"f":-65},{"e":15700,"f":-20},{"e":15600,"f":20},{"e":15800,"f":65},{"e":16000,"f":105},{"e":16200,"f":129},{"e":15900,"f":100},{"e":15300,"f":60},{"e":14700,"f":20},{"e":14500,"f":-5},{"e":14700,"f":-45},{"e":15300,"f":-85},{"e":16200,"f":-118},{"e":17200,"f":-138},{"e":17900,"f":-144},{"e":17500,"f":-140},{"e":16900,"f":-130}],
"bS2":[{"e":0,"f":0},{"e":100,"f":20},{"e":250,"f":40},{"e":450,"f":70},{"e":700,"f":95},{"e":950,"f":118},{"e":1250,"f":136},{"e":1100,"f":120},{"e":800,"f":95},{"e":500,"f":65},{"e":250,"f":35},{"e":50,"f":10},{"e":0,"f":-20},{"e":50,"f":-50},{"e":100,"f":-80},{"e":150,"f":-110},{"e":250,"f":-130},{"e":400,"f":-145},{"e":350,"f":-125},{"e":200,"f":-100},{"e":100,"f":-70},{"e":0,"f":-40},{"e":-50,"f":-10},{"e":50,"f":20},{"e":200,"f":45},{"e":400,"f":70},{"e":650,"f":100},{"e":900,"f":122},{"e":1150,"f":134},{"e":1000,"f":110},{"e":700,"f":80},{"e":400,"f":50},{"e":200,"f":25},{"e":50,"f":0},{"e":0,"f":-30},{"e":100,"f":-70},{"e":200,"f":-105},{"e":300,"f":-130},{"e":450,"f":-142}],
"bS4":[{"e":0,"f":0},{"e":100,"f":35},{"e":250,"f":70},{"e":450,"f":100},{"e":700,"f":131},{"e":600,"f":110},{"e":350,"f":80},{"e":150,"f":45},{"e":0,"f":10},{"e":-50,"f":-20},{"e":50,"f":-55},{"e":250,"f":-85},{"e":500,"f":-115},{"e":800,"f":-138},{"e":950,"f":-142},{"e":850,"f":-125},{"e":550,"f":-100},{"e":300,"f":-70},{"e":100,"f":-40},{"e":0,"f":-10},{"e":50,"f":25},{"e":200,"f":60},{"e":400,"f":95},{"e":600,"f":120},{"e":750,"f":128},{"e":550,"f":100},{"e":300,"f":65},{"e":100,"f":30},{"e":50,"f":0},{"e":100,"f":-35},{"e":300,"f":-70},{"e":550,"f":-105},{"e":800,"f":-130},{"e":1000,"f":-140}],
"bS3":[{"e":0,"f":0},{"e":50,"f":30},{"e":100,"f":60},{"e":0,"f":85},{"e":-150,"f":85},{"e":-100,"f":100},{"e":100,"f":120},{"e":450,"f":134},{"e":300,"f":120},{"e":100,"f":100},{"e":0,"f":70},{"e":-50,"f":40},{"e":-50,"f":10},{"e":100,"f":-15},{"e":300,"f":-40},{"e":600,"f":-69},{"e":900,"f":-95},{"e":1150,"f":-115},{"e":1400,"f":-135},{"e":1560,"f":-142},{"e":1350,"f":-125},{"e":1050,"f":-100},{"e":700,"f":-70},{"e":400,"f":-45},{"e":150,"f":-20},{"e":0,"f":5},{"e":0,"f":40},{"e":50,"f":75},{"e":150,"f":105},{"e":350,"f":128},{"e":200,"f":110},{"e":50,"f":80},{"e":-50,"f":50},{"e":-20,"f":15},{"e":150,"f":-15},{"e":450,"f":-45},{"e":800,"f":-78},{"e":1100,"f":-105},{"e":1400,"f":-130}],
"bS5":[{"e":0,"f":0},{"e":20,"f":30},{"e":60,"f":55},{"e":250,"f":90},{"e":700,"f":95},{"e":500,"f":70},{"e":300,"f":40},{"e":200,"f":10},{"e":300,"f":-25},{"e":500,"f":-55},{"e":900,"f":-80},{"e":1400,"f":-101},{"e":1800,"f":-125},{"e":2100,"f":-140},{"e":1900,"f":-120},{"e":1500,"f":-95},{"e":1000,"f":-70},{"e":600,"f":-45},{"e":400,"f":-15},{"e":450,"f":20},{"e":650,"f":50},{"e":950,"f":75},{"e":1300,"f":100},{"e":1650,"f":120},{"e":1870,"f":133},{"e":1600,"f":115},{"e":1200,"f":90},{"e":800,"f":60},{"e":500,"f":30},{"e":350,"f":0},{"e":450,"f":-35},{"e":800,"f":-65},{"e":1250,"f":-95},{"e":1650,"f":-120},{"e":2000,"f":-138}],
"cS2":[{"e":0,"f":0},{"e":100,"f":25},{"e":250,"f":52},{"e":0,"f":40},{"e":-200,"f":0},{"e":-150,"f":-45},{"e":50,"f":-70},{"e":300,"f":-86},{"e":450,"f":-60},{"e":400,"f":-20},{"e":350,"f":20},{"e":450,"f":50},{"e":200,"f":45},{"e":-100,"f":10},{"e":-150,"f":-30},{"e":0,"f":-65},{"e":250,"f":-80},{"e":450,"f":-50},{"e":500,"f":0},{"e":700,"f":40},{"e":1200,"f":70},{"e":2000,"f":87},{"e":1700,"f":60},{"e":1300,"f":30},{"e":1100,"f":0},{"e":1100,"f":-40},{"e":1200,"f":-75},{"e":1500,"f":-90},{"e":1800,"f":-94},{"e":1800,"f":-60},{"e":1700,"f":-20},{"e":1800,"f":20},{"e":2100,"f":55},{"e":2600,"f":80},{"e":2900,"f":87},{"e":2600,"f":65},{"e":2000,"f":30},{"e":1600,"f":0},{"e":1600,"f":-40},{"e":1800,"f":-75},{"e":2100,"f":-94},{"e":2300,"f":-85},{"e":2300,"f":-50},{"e":2300,"f":-10},{"e":2500,"f":30},{"e":2900,"f":65},{"e":3300,"f":85},{"e":4000,"f":93},{"e":5200,"f":103},{"e":6500,"f":110},{"e":7800,"f":115},{"e":9000,"f":118},{"e":9800,"f":120},{"e":9600,"f":105},{"e":9200,"f":75},{"e":8600,"f":40},{"e":8000,"f":10},{"e":7800,"f":-2},{"e":7800,"f":-35},{"e":8100,"f":-70},{"e":8600,"f":-105},{"e":9100,"f":-125},{"e":9300,"f":-115},{"e":9300,"f":-75},{"e":9100,"f":-35},{"e":9100,"f":0},{"e":9400,"f":35},{"e":9900,"f":75},{"e":10500,"f":105},{"e":11000,"f":115},{"e":10600,"f":95},{"e":10000,"f":60},{"e":9300,"f":20},{"e":8900,"f":0},{"e":9000,"f":-40},{"e":9400,"f":-80},{"e":10000,"f":-105},{"e":10300,"f":-110},{"e":10500,"f":-90},{"e":10400,"f":-50},{"e":10400,"f":-10},{"e":10700,"f":35},{"e":11200,"f":80},{"e":11800,"f":110},{"e":12300,"f":122},{"e":12000,"f":100},{"e":11500,"f":65},{"e":11000,"f":25},{"e":10900,"f":0},{"e":11000,"f":-40},{"e":11400,"f":-85},{"e":12000,"f":-118},{"e":12700,"f":-132},{"e":12900,"f":-110},{"e":12700,"f":-65},{"e":12400,"f":-20},{"e":12400,"f":20},{"e":12700,"f":70},{"e":13100,"f":110},{"e":13400,"f":127},{"e":13100,"f":100},{"e":12500,"f":60},{"e":11900,"f":20},{"e":11800,"f":-5},{"e":12000,"f":-45},{"e":12400,"f":-90},{"e":13000,"f":-122},{"e":13500,"f":-134},{"e":13600,"f":-110},{"e":13400,"f":-65},{"e":13100,"f":-20},{"e":13100,"f":20},{"e":13400,"f":70},{"e":13800,"f":110},{"e":14100,"f":128},{"e":13800,"f":100},{"e":13300,"f":60},{"e":13000,"f":20},{"e":13000,"f":-15},{"e":13200,"f":-60},{"e":13700,"f":-100},{"e":14400,"f":-130},{"e":15100,"f":-144},{"e":15300,"f":-120},{"e":15000,"f":-70},{"e":14600,"f":-25},{"e":14600,"f":15},{"e":14800,"f":65},{"e":15100,"f":105},{"e":15400,"f":129},{"e":15100,"f":100},{"e":14600,"f":60},{"e":14200,"f":20},{"e":14100,"f":-15},{"e":14300,"f":-60},{"e":14700,"f":-100},{"e":15200,"f":-130},{"e":15600,"f":-142}],
"cS4":[{"e":0,"f":0},{"e":50,"f":30},{"e":100,"f":60},{"e":50,"f":87},{"e":-100,"f":60},{"e":-150,"f":20},{"e":-100,"f":-20},{"e":50,"f":-40},{"e":200,"f":-20},{"e":250,"f":20},{"e":300,"f":60},{"e":200,"f":87},{"e":100,"f":60},{"e":0,"f":20},{"e":0,"f":-20},{"e":150,"f":-40},{"e":400,"f":10},{"e":700,"f":60},{"e":1200,"f":100},{"e":1780,"f":120},{"e":1500,"f":90},{"e":1200,"f":50},{"e":1100,"f":0},{"e":1200,"f":-40},{"e":1600,"f":-65},{"e":2300,"f":-80},{"e":3100,"f":-90},{"e":2900,"f":-60},{"e":2300,"f":-20},{"e":1900,"f":10},{"e":1900,"f":50},{"e":2000,"f":100},{"e":2100,"f":115},{"e":1800,"f":90},{"e":1500,"f":50},{"e":1400,"f":10},{"e":1600,"f":-30},{"e":2200,"f":-65},{"e":3100,"f":-90},{"e":4200,"f":-100},{"e":5500,"f":-108},{"e":7000,"f":-115},{"e":8500,"f":-120},{"e":10000,"f":-125},{"e":11000,"f":-129},{"e":11800,"f":-132},{"e":11500,"f":-110},{"e":11000,"f":-65},{"e":10600,"f":-20},{"e":10500,"f":20},{"e":10700,"f":65},{"e":11000,"f":105},{"e":11300,"f":127},{"e":11000,"f":100},{"e":10300,"f":60},{"e":9500,"f":20},{"e":8900,"f":0},{"e":8800,"f":-35},{"e":9200,"f":-75},{"e":9900,"f":-110},{"e":10800,"f":-130},{"e":11200,"f":-135},{"e":11100,"f":-110},{"e":10600,"f":-60},{"e":10100,"f":-15},{"e":10000,"f":25},{"e":10200,"f":70},{"e":10500,"f":110},{"e":10800,"f":129},{"e":10400,"f":100},{"e":9700,"f":55},{"e":9000,"f":15},{"e":8500,"f":-10},{"e":8500,"f":-45},{"e":9000,"f":-85},{"e":9800,"f":-118},{"e":10900,"f":-140},{"e":10800,"f":-110},{"e":10200,"f":-60},{"e":9800,"f":-15},{"e":9700,"f":25},{"e":9800,"f":70},{"e":10000,"f":110},{"e":10200,"f":129},{"e":9900,"f":100},{"e":9300,"f":60},{"e":8500,"f":20},{"e":8000,"f":0},{"e":8000,"f":-35},{"e":8500,"f":-80},{"e":9400,"f":-115},{"e":10600,"f":-138},{"e":11200,"f":-140},{"e":11300,"f":-110},{"e":11000,"f":-60},{"e":10800,"f":-20},{"e":10900,"f":20},{"e":11200,"f":65},{"e":11600,"f":105},{"e":11900,"f":125},{"e":11600,"f":100},{"e":11100,"f":60},{"e":10900,"f":20},{"e":10800,"f":-10},{"e":11000,"f":-50},{"e":11500,"f":-90},{"e":12200,"f":-120},{"e":12900,"f":-138},{"e":12800,"f":-110},{"e":12500,"f":-60},{"e":12400,"f":-20},{"e":12500,"f":20},{"e":12700,"f":65},{"e":12900,"f":105},{"e":13100,"f":125},{"e":12900,"f":100},{"e":12600,"f":60},{"e":12400,"f":20},{"e":12300,"f":-10},{"e":12500,"f":-50},{"e":13000,"f":-90},{"e":13700,"f":-120},{"e":14300,"f":-142},{"e":14200,"f":-110},{"e":13800,"f":-60},{"e":13700,"f":-20},{"e":13800,"f":20},{"e":14100,"f":65},{"e":14500,"f":105},{"e":14700,"f":124},{"e":14500,"f":100},{"e":14100,"f":60},{"e":13800,"f":20},{"e":13800,"f":-15},{"e":14100,"f":-55},{"e":14600,"f":-95},{"e":15300,"f":-125},{"e":15900,"f":-140},{"e":16300,"f":-144},{"e":16000,"f":-120},{"e":15700,"f":-80},{"e":15500,"f":-40},{"e":15300,"f":-30},{"e":15300,"f":0}],
"dS2":[{"e":0,"f":0},{"e":100,"f":25},{"e":250,"f":45},{"e":450,"f":65},{"e":700,"f":90},{"e":950,"f":110},{"e":1250,"f":128},{"e":1430,"f":135},{"e":1200,"f":120},{"e":900,"f":100},{"e":600,"f":75},{"e":350,"f":45},{"e":150,"f":15},{"e":0,"f":-15},{"e":50,"f":-50},{"e":150,"f":-85},{"e":250,"f":-115},{"e":400,"f":-135},{"e":535,"f":-142},{"e":450,"f":-125},{"e":300,"f":-100},{"e":150,"f":-70},{"e":50,"f":-40},{"e":-50,"f":-10},{"e":100,"f":20},{"e":300,"f":45},{"e":550,"f":70},{"e":800,"f":95},{"e":1100,"f":118},{"e":1350,"f":132},{"e":1150,"f":115},{"e":850,"f":90},{"e":550,"f":60},{"e":250,"f":30},{"e":50,"f":0},{"e":0,"f":-35},{"e":100,"f":-75},{"e":250,"f":-110},{"e":400,"f":-132},{"e":500,"f":-140}],
"dS4":[{"e":0,"f":0},{"e":60,"f":20},{"e":130,"f":42},{"e":250,"f":65},{"e":360,"f":88},{"e":550,"f":115},{"e":800,"f":138},{"e":650,"f":120},{"e":450,"f":95},{"e":250,"f":65},{"e":100,"f":35},{"e":0,"f":5},{"e":0,"f":-25},{"e":130,"f":-50},{"e":300,"f":-80},{"e":580,"f":-112},{"e":850,"f":-130},{"e":1030,"f":-142},{"e":900,"f":-130},{"e":650,"f":-110},{"e":400,"f":-85},{"e":200,"f":-55},{"e":50,"f":-25},{"e":0,"f":10},{"e":100,"f":40},{"e":250,"f":70},{"e":450,"f":100},{"e":650,"f":125},{"e":750,"f":135},{"e":600,"f":115},{"e":400,"f":85},{"e":200,"f":50},{"e":80,"f":15},{"e":50,"f":-20},{"e":200,"f":-55},{"e":450,"f":-90},{"e":700,"f":-120},{"e":950,"f":-138}],
"cS3":[{"e":0,"f":0},{"e":100,"f":30},{"e":300,"f":60},{"e":500,"f":88},{"e":200,"f":85},{"e":0,"f":60},{"e":-100,"f":20},{"e":-50,"f":-20},{"e":100,"f":-50},{"e":300,"f":-75},{"e":150,"f":-40},{"e":0,"f":0},{"e":50,"f":40},{"e":300,"f":80},{"e":700,"f":100},{"e":1200,"f":120},{"e":1650,"f":135},{"e":1300,"f":110},{"e":800,"f":70},{"e":400,"f":30},{"e":200,"f":0},{"e":200,"f":-40},{"e":500,"f":-80},{"e":1000,"f":-115},{"e":1650,"f":-140},{"e":1800,"f":-120},{"e":1500,"f":-80},{"e":1100,"f":-40},{"e":900,"f":0},{"e":1000,"f":40},{"e":1400,"f":85},{"e":2000,"f":120},{"e":2400,"f":135},{"e":2000,"f":110},{"e":1400,"f":70},{"e":900,"f":30},{"e":700,"f":0},{"e":800,"f":-40},{"e":1200,"f":-85},{"e":1800,"f":-120},{"e":2500,"f":-142},{"e":2600,"f":-115},{"e":2200,"f":-70},{"e":1700,"f":-30},{"e":1500,"f":0},{"e":1700,"f":45},{"e":2100,"f":90},{"e":2600,"f":125},{"e":2900,"f":135},{"e":2500,"f":105},{"e":1900,"f":65},{"e":1400,"f":25},{"e":1300,"f":-10},{"e":1500,"f":-55},{"e":2000,"f":-100},{"e":2700,"f":-130},{"e":3300,"f":-142},{"e":3300,"f":-110},{"e":2800,"f":-60},{"e":2400,"f":-15},{"e":2300,"f":20},{"e":2600,"f":70},{"e":3000,"f":115},{"e":3200,"f":133},{"e":2900,"f":100},{"e":2400,"f":55},{"e":2100,"f":15},{"e":2100,"f":-25},{"e":2500,"f":-75},{"e":3100,"f":-115},{"e":3800,"f":-142},{"e":3900,"f":-130},{"e":3700,"f":-100},{"e":3400,"f":-60}],
"cS5":[{"e":0,"f":0},{"e":50,"f":30},{"e":100,"f":60},{"e":0,"f":77},{"e":-150,"f":40},{"e":-150,"f":0},{"e":-100,"f":-30},{"e":50,"f":-54},{"e":200,"f":-30},{"e":250,"f":0},{"e":200,"f":40},{"e":100,"f":70},{"e":-50,"f":50},{"e":-100,"f":10},{"e":0,"f":-40},{"e":150,"f":-54},{"e":300,"f":-20},{"e":400,"f":30},{"e":600,"f":70},{"e":900,"f":88},{"e":700,"f":60},{"e":400,"f":25},{"e":220,"f":0},{"e":300,"f":-35},{"e":700,"f":-60},{"e":1400,"f":-80},{"e":2000,"f":-85},{"e":1800,"f":-55},{"e":1500,"f":-20},{"e":1400,"f":10},{"e":1500,"f":45},{"e":1800,"f":75},{"e":2000,"f":85},{"e":1800,"f":70},{"e":1500,"f":40},{"e":1200,"f":10},{"e":1100,"f":-15},{"e":1400,"f":-45},{"e":2100,"f":-70},{"e":2800,"f":-88},{"e":3100,"f":-92},{"e":2900,"f":-65},{"e":2600,"f":-30},{"e":2500,"f":0},{"e":2600,"f":30},{"e":2900,"f":65},{"e":3300,"f":90},{"e":3700,"f":100},{"e":4300,"f":110},{"e":4900,"f":116},{"e":5350,"f":120},{"e":5100,"f":105},{"e":4600,"f":80},{"e":4000,"f":40},{"e":3600,"f":10},{"e":3570,"f":0},{"e":3600,"f":-30},{"e":3900,"f":-55},{"e":4500,"f":-80},{"e":5300,"f":-100},{"e":6500,"f":-112},{"e":8000,"f":-120},{"e":9500,"f":-126},{"e":11000,"f":-132},{"e":12260,"f":-142},{"e":12100,"f":-110},{"e":11800,"f":-65},{"e":11500,"f":-20},{"e":11500,"f":20},{"e":11700,"f":65},{"e":12000,"f":105},{"e":12200,"f":131},{"e":12000,"f":100},{"e":11600,"f":60},{"e":11200,"f":20},{"e":11150,"f":-10},{"e":11400,"f":-55},{"e":11900,"f":-100},{"e":12500,"f":-130},{"e":13000,"f":-140},{"e":12900,"f":-110},{"e":12600,"f":-60},{"e":12300,"f":-15},{"e":12300,"f":25},{"e":12500,"f":70},{"e":12800,"f":110},{"e":13100,"f":131},{"e":12800,"f":100},{"e":12300,"f":60},{"e":11900,"f":20},{"e":11800,"f":-10},{"e":12000,"f":-55},{"e":12500,"f":-100},{"e":13200,"f":-130},{"e":13800,"f":-142},{"e":13700,"f":-110},{"e":13300,"f":-60},{"e":12900,"f":-15},{"e":12900,"f":25},{"e":13200,"f":70},{"e":13600,"f":110},{"e":14000,"f":130},{"e":14270,"f":131},{"e":13900,"f":100},{"e":13400,"f":60},{"e":12900,"f":20},{"e":12700,"f":-10},{"e":12900,"f":-55},{"e":13400,"f":-100},{"e":14200,"f":-132},{"e":14900,"f":-142},{"e":14300,"f":-142},{"e":13500,"f":-140}],
"dS3":[{"e":0,"f":0},{"e":0,"f":30},{"e":-100,"f":60},{"e":-300,"f":88},{"e":-250,"f":60},{"e":-150,"f":30},{"e":0,"f":10},{"e":100,"f":40},{"e":200,"f":70},{"e":400,"f":100},{"e":700,"f":120},{"e":1000,"f":132},{"e":1130,"f":135},{"e":900,"f":120},{"e":600,"f":100},{"e":300,"f":80},{"e":150,"f":50},{"e":50,"f":15},{"e":100,"f":-20},{"e":250,"f":-50},{"e":500,"f":-75},{"e":750,"f":-95},{"e":1000,"f":-118},{"e":1200,"f":-135},{"e":1330,"f":-142},{"e":1150,"f":-125},{"e":850,"f":-100},{"e":550,"f":-75},{"e":300,"f":-50},{"e":100,"f":-20},{"e":0,"f":10},{"e":50,"f":45},{"e":200,"f":75},{"e":450,"f":100},{"e":750,"f":120},{"e":1050,"f":133},{"e":850,"f":115},{"e":550,"f":90},{"e":250,"f":55},{"e":100,"f":20},{"e":150,"f":-20},{"e":350,"f":-50},{"e":650,"f":-80},{"e":950,"f":-108},{"e":1200,"f":-130},{"e":1300,"f":-138}],
"dS5":[{"e":0,"f":0},{"e":50,"f":30},{"e":100,"f":60},{"e":150,"f":90},{"e":250,"f":80},{"e":150,"f":50},{"e":100,"f":20},{"e":150,"f":0},{"e":300,"f":-25},{"e":450,"f":-55},{"e":700,"f":-75},{"e":1000,"f":-94},{"e":1400,"f":-115},{"e":1830,"f":-136},{"e":1600,"f":-125},{"e":1200,"f":-105},{"e":800,"f":-80},{"e":500,"f":-55},{"e":250,"f":-25},{"e":150,"f":0},{"e":250,"f":30},{"e":450,"f":60},{"e":750,"f":88},{"e":1100,"f":115},{"e":1470,"f":137},{"e":1250,"f":122},{"e":900,"f":100},{"e":600,"f":75},{"e":350,"f":45},{"e":200,"f":15},{"e":250,"f":-20},{"e":450,"f":-50},{"e":800,"f":-78},{"e":1200,"f":-105},{"e":1600,"f":-128},{"e":1800,"f":-136}]
}
}
